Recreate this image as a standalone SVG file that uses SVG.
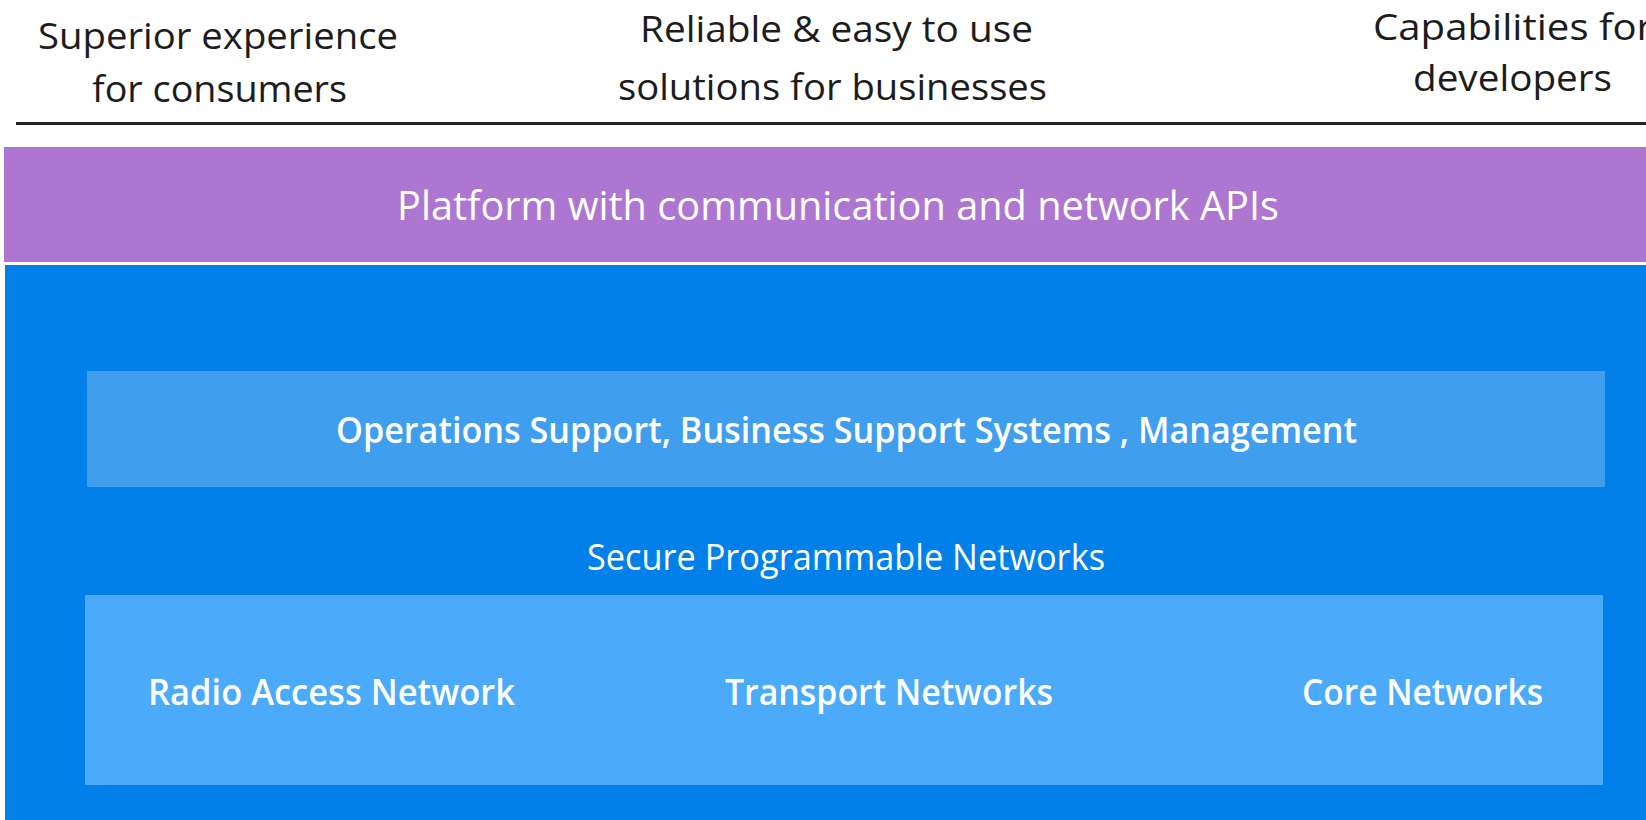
<svg xmlns="http://www.w3.org/2000/svg" width="1646" height="820" viewBox="0 0 1646 820">
<style>
text{font-family:"Open Sans","Noto Sans","Liberation Sans",sans-serif}
.top{fill:#1c1c1c;font-size:37px}
.w{fill:#ffffff}
.b{font-weight:600;font-size:36px}
.r{font-size:37px}
</style>
<rect x="0" y="0" width="1646" height="820" fill="#ffffff"/>
<g id="headers">
<text class="top" x="218" y="49" text-anchor="middle" textLength="360" lengthAdjust="spacingAndGlyphs">Superior experience</text>
<text class="top" x="219.5" y="102" text-anchor="middle" textLength="255" lengthAdjust="spacingAndGlyphs">for consumers</text>
<text class="top" x="836.5" y="42" text-anchor="middle" textLength="393" lengthAdjust="spacingAndGlyphs">Reliable &amp; easy to use</text>
<text class="top" x="832.5" y="100" text-anchor="middle" textLength="429" lengthAdjust="spacingAndGlyphs">solutions for businesses</text>
<text class="top" x="1373" y="40" textLength="280" lengthAdjust="spacingAndGlyphs">Capabilities for</text>
<text class="top" x="1512.5" y="91" text-anchor="middle" textLength="199" lengthAdjust="spacingAndGlyphs">developers</text>
<line x1="16" y1="123.5" x2="1646" y2="123.5" stroke="#222222" stroke-width="2.8"/>
</g>
<g id="platform">
<rect x="4" y="147" width="1642" height="115" fill="#AD77D1"/>
<text class="w" x="838" y="220" font-size="40" text-anchor="middle" textLength="882" lengthAdjust="spacingAndGlyphs">Platform with communication and network APIs</text>
</g>
<g id="networks">
<rect x="5" y="265" width="1641" height="555" fill="#0280EA"/>
<text class="w r" x="846" y="570" text-anchor="middle" textLength="518" lengthAdjust="spacingAndGlyphs">Secure Programmable Networks</text>
</g>
<g id="oss">
<rect x="87" y="371" width="1518" height="116" fill="#3F9EEE"/>
<text class="w b" x="846.5" y="443" text-anchor="middle" textLength="1021" lengthAdjust="spacingAndGlyphs">Operations Support, Business Support Systems , Management</text>
</g>
<g id="domains">
<rect x="85" y="595" width="1518" height="190" fill="#4CAAFA"/>
</g>
<g id="ran">
<text class="w b" x="148" y="705" textLength="367" lengthAdjust="spacingAndGlyphs">Radio Access Network</text>
</g>
<g id="transport">
<text class="w b" x="725" y="705" textLength="328" lengthAdjust="spacingAndGlyphs">Transport Networks</text>
</g>
<g id="core">
<text class="w b" x="1302" y="705" textLength="241" lengthAdjust="spacingAndGlyphs">Core Networks</text>
</g>
</svg>
